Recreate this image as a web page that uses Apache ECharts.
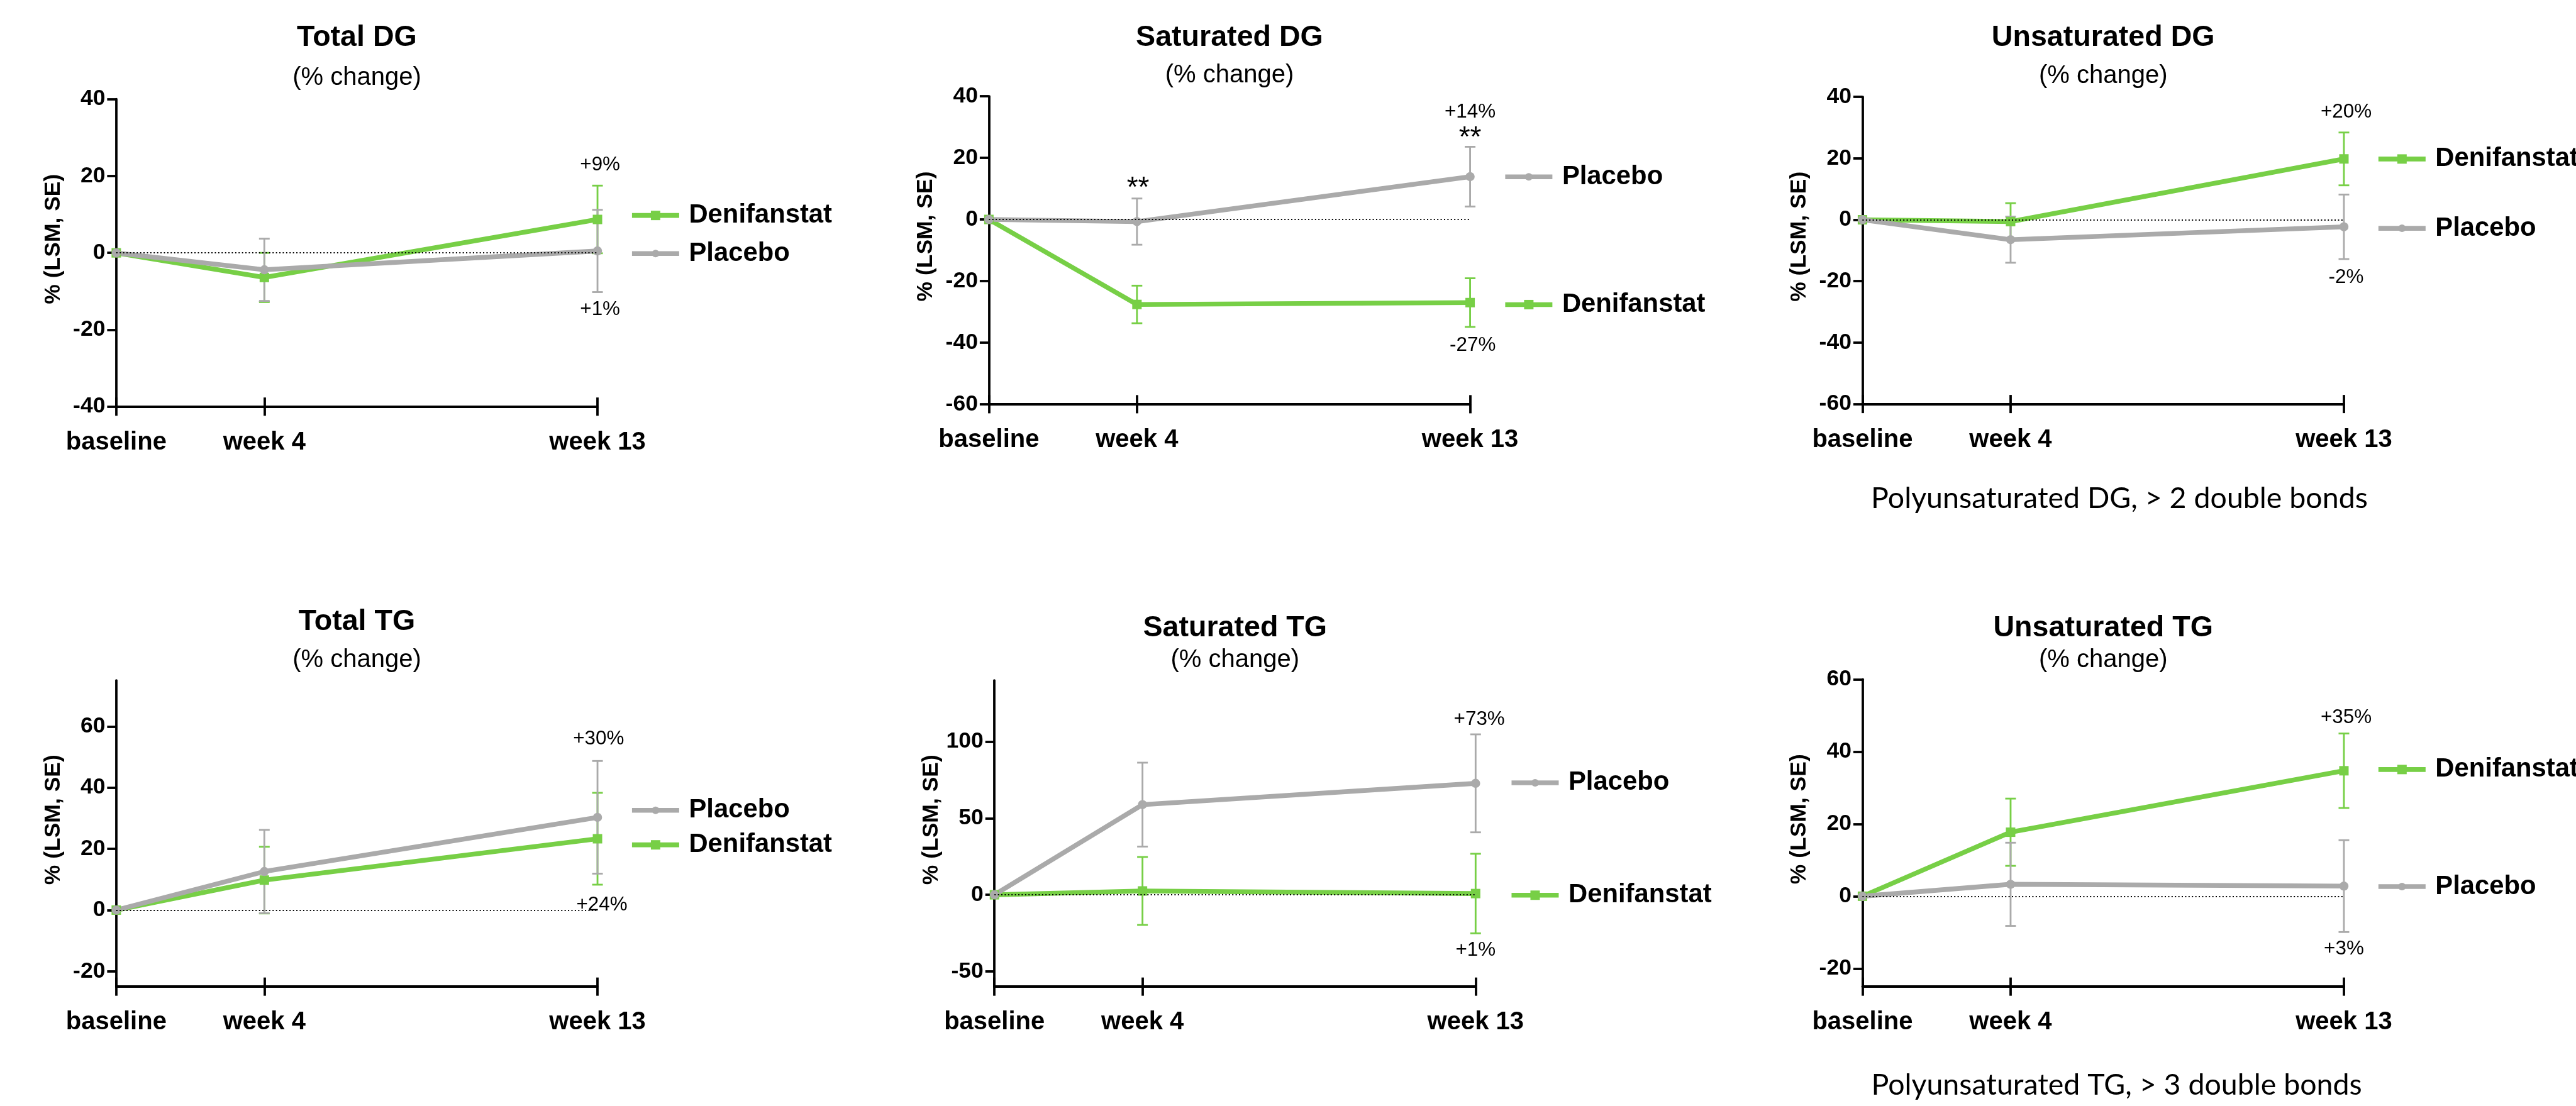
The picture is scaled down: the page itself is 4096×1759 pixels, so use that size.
<!DOCTYPE html>
<html><head><meta charset="utf-8">
<script src="https://cdn.jsdelivr.net/npm/echarts@6/dist/echarts.min.js"></script>
<style>html,body{margin:0;padding:0;background:#fff}#c{width:4096px;height:1759px}</style>
</head><body><div id="c"></div>
<script>
// ---------------- DATA ----------------
const weeks = [0, 4, 13];
const weekLabels = ['baseline', 'week 4', 'week 13'];
const seriesNames = ['Denifanstat', 'Placebo'];
const panelTitles = ['Total DG', 'Saturated DG', 'Unsaturated DG', 'Total TG', 'Saturated TG', 'Unsaturated TG'];
const panelSubtitle = '(% change)';
const yAxisName = '% (LSM, SE)';
const footnoteDG = 'Polyunsaturated DG, > 2 double bonds';
const footnoteTG = 'Polyunsaturated TG, > 3 double bonds';

// Total DG
const totalDG_denifanstat = [0, -6.4, 8.7];
const totalDG_denifanstat_se = [0, 6.4, 8.8];
const totalDG_placebo = [0, -4.4, 0.5];
const totalDG_placebo_se = [0, 8.1, 10.7];
const totalDG_yRange = [-40, 40];
const totalDG_yTicks = [-40, -20, 0, 20, 40];
const totalDG_labels = ['+9%', '+1%'];

// Saturated DG
const satDG_denifanstat = [0, -27.6, -27.0];
const satDG_denifanstat_se = [0, 6.1, 7.9];
const satDG_placebo = [0, -0.7, 13.9];
const satDG_placebo_se = [0, 7.5, 9.7];
const satDG_yRange = [-60, 40];
const satDG_yTicks = [-60, -40, -20, 0, 20, 40];
const satDG_labels = ['**', '+14%', '**', '-27%'];

// Unsaturated DG
const unsatDG_denifanstat = [0, -0.6, 19.8];
const unsatDG_denifanstat_se = [0, 6.0, 8.6];
const unsatDG_placebo = [0, -6.5, -2.3];
const unsatDG_placebo_se = [0, 7.5, 10.5];
const unsatDG_yRange = [-60, 40];
const unsatDG_yTicks = [-60, -40, -20, 0, 20, 40];
const unsatDG_labels = ['+20%', '-2%'];

// Total TG
const totalTG_denifanstat = [0, 9.8, 23.3];
const totalTG_denifanstat_se = [0, 10.9, 15.0];
const totalTG_placebo = [0, 12.6, 30.3];
const totalTG_placebo_se = [0, 13.6, 18.4];
const totalTG_yRange = [-25, 75];
const totalTG_yTicks = [-20, 0, 20, 40, 60];
const totalTG_labels = ['+30%', '+24%'];

// Saturated TG
const satTG_denifanstat = [0, 2.5, 0.8];
const satTG_denifanstat_se = [0, 22.2, 26.0];
const satTG_placebo = [0, 58.9, 72.8];
const satTG_placebo_se = [0, 27.4, 32.0];
const satTG_yRange = [-60, 140];
const satTG_yTicks = [-50, 0, 50, 100];
const satTG_labels = ['+73%', '+1%'];

// Unsaturated TG
const unsatTG_denifanstat = [0, 17.7, 34.7];
const unsatTG_denifanstat_se = [0, 9.3, 10.3];
const unsatTG_placebo = [0, 3.3, 2.8];
const unsatTG_placebo_se = [0, 11.5, 12.7];
const unsatTG_yRange = [-25, 60];
const unsatTG_yTicks = [-20, 0, 20, 40, 60];
const unsatTG_labels = ['+35%', '+3%'];

// ---------------- LAYOUT / STYLE (reference px, scaled by S) ----------------
const S = 0.951;
const GREEN = '#77CF46';
const GRAY = '#AAAAAA';
const FONT = '"Liberation Sans", Arial, Helvetica, sans-serif';
const NOTEFONT = 'Lato, "Open Sans", sans-serif';

const layout = [
  {left:194.4, top:165.8, width:804.6, height:514.2, titleY:62.8, subY:130.4,
   legend:[['Denifanstat',1052.7,360.2],['Placebo',1052.7,424]],
   ann:[[13.07,22.8],[13.07,-14.8]]},
  {left:1653.4, top:161, width:804.6, height:515, titleY:63.3, subY:126.4,
   legend:[['Placebo',2512.7,295.7],['Denifanstat',2512.7,509.3]],
   ann:[[4.03,10.0],[13.0,34.9],[13.0,26.3],[13.07,-40.9]]},
  {left:3114, top:162, width:805, height:513.7, titleY:63.2, subY:127.4,
   legend:[['Denifanstat',3972.7,265.8],['Placebo',3972.7,381.7]],
   ann:[[13.06,35.1],[13.06,-18.8]]},
  {left:194.4, top:1138, width:804.6, height:512, titleY:1040.2, subY:1103.9,
   legend:[['Placebo',1052.7,1355],['Denifanstat',1052.7,1412.8]],
   ann:[[13.03,55.9],[13.12,1.7]]},
  {left:1662.7, top:1138, width:804.5, height:512, titleY:1050.2, subY:1104,
   legend:[['Placebo',2523.3,1309],['Denifanstat',2523.3,1497]],
   ann:[[13.1,114.5],[13.0,-36.2]]},
  {left:3114, top:1136, width:805, height:514, titleY:1050.2, subY:1103.9,
   legend:[['Denifanstat',3972.7,1286.8],['Placebo',3972.7,1482.6]],
   ann:[[13.06,49.4],[13.0,-14.6]]}
];
const footnotes = [[footnoteDG, 3543.6, 833.6], [footnoteTG, 3539, 1814.8]];

const panels = [
  {d:totalDG_denifanstat, ds:totalDG_denifanstat_se, p:totalDG_placebo, ps:totalDG_placebo_se, yr:totalDG_yRange, yt:totalDG_yTicks, lab:totalDG_labels},
  {d:satDG_denifanstat, ds:satDG_denifanstat_se, p:satDG_placebo, ps:satDG_placebo_se, yr:satDG_yRange, yt:satDG_yTicks, lab:satDG_labels},
  {d:unsatDG_denifanstat, ds:unsatDG_denifanstat_se, p:unsatDG_placebo, ps:unsatDG_placebo_se, yr:unsatDG_yRange, yt:unsatDG_yTicks, lab:unsatDG_labels},
  {d:totalTG_denifanstat, ds:totalTG_denifanstat_se, p:totalTG_placebo, ps:totalTG_placebo_se, yr:totalTG_yRange, yt:totalTG_yTicks, lab:totalTG_labels},
  {d:satTG_denifanstat, ds:satTG_denifanstat_se, p:satTG_placebo, ps:satTG_placebo_se, yr:satTG_yRange, yt:satTG_yTicks, lab:satTG_labels},
  {d:unsatTG_denifanstat, ds:unsatTG_denifanstat_se, p:unsatTG_placebo, ps:unsatTG_placebo_se, yr:unsatTG_yRange, yt:unsatTG_yTicks, lab:unsatTG_labels}
];

const AXW = 3.8, TICK = 14.5, LW = 7.6, EW = 2.85, CAP = 17;

function errRender(color) {
  return function (params, api) {
    const x = api.value(0), lo = api.value(1), hi = api.value(2);
    const a = api.coord([x, lo]), b = api.coord([x, hi]);
    const hw = CAP / 2;
    const st = {stroke: color, lineWidth: EW};
    return {type: 'group', children: [
      {type: 'line', shape: {x1: a[0], y1: a[1], x2: b[0], y2: b[1]}, style: st},
      {type: 'line', shape: {x1: a[0] - hw, y1: a[1], x2: a[0] + hw, y2: a[1]}, style: st},
      {type: 'line', shape: {x1: b[0] - hw, y1: b[1], x2: b[0] + hw, y2: b[1]}, style: st}
    ]};
  };
}
function noteRender(texts) {
  return function (params, api) {
    const p = api.coord([api.value(0), api.value(1)]);
    const t = texts[params.dataIndex];
    return {type: 'text', x: p[0], y: p[1], silent: true,
      style: {text: t, fill: '#000', fontSize: t === '**' ? 46 : 31.4, fontFamily: FONT, fontWeight: 'normal',
        align: 'center', verticalAlign: 'middle', textAlign: 'center', textVerticalAlign: 'middle'}};
  };
}

const grid = [], xAxis = [], yAxis = [], series = [], legend = [], graphic = [];

panels.forEach((pn, k) => {
  const L = layout[k];
  grid.push({left: L.left * S, top: L.top * S, width: L.width * S, height: L.height * S, outerBoundsMode: 'none', containLabel: false});
  xAxis.push({type: 'value', gridIndex: k, min: 0, max: 13, position: 'bottom',
    axisLine: {show: true, onZero: false, lineStyle: {color: '#000', width: AXW}},
    axisTick: {show: true, length: TICK, customValues: weeks, lineStyle: {color: '#000', width: AXW}},
    axisLabel: {show: true, customValues: weeks, margin: 37, fontSize: 40, fontWeight: 'bold', color: '#000', fontFamily: FONT,
      formatter: v => weekLabels[weeks.indexOf(v)] || ''},
    splitLine: {show: false}});
  xAxis.push({type: 'value', gridIndex: k, min: 0, max: 13, position: 'bottom',
    axisLine: {show: false, onZero: false},
    axisTick: {show: true, inside: true, length: TICK, customValues: weeks, lineStyle: {color: '#000', width: AXW}},
    axisLabel: {show: false}, splitLine: {show: false}});
  yAxis.push({type: 'value', gridIndex: k, min: pn.yr[0], max: pn.yr[1],
    axisLine: {show: true, onZero: false, lineStyle: {color: '#000', width: AXW}},
    axisTick: {show: true, length: TICK, customValues: pn.yt, lineStyle: {color: '#000', width: AXW}},
    axisLabel: {show: true, customValues: pn.yt, margin: 17.5, fontSize: 35.5, fontWeight: 'bold', color: '#000', fontFamily: FONT},
    splitLine: {show: false},
    name: yAxisName, nameLocation: 'middle', nameGap: 82, nameRotate: 90,
    nameTextStyle: {fontSize: 35.5, fontWeight: 'bold', color: '#000', fontFamily: FONT, padding: [0, 0, 0, 44]}});

  const xi = 2 * k;
  const mk = (vals) => weeks.map((w, i) => [w, vals[i]]);
  const mkErr = (vals, se) => weeks.map((w, i) => [w, vals[i] - se[i], vals[i] + se[i]]).filter((r, i) => se[i] > 0);

  series.push({type: 'line', name: 'Denifanstat', xAxisIndex: xi, yAxisIndex: k, data: mk(pn.d),
    symbol: 'rect', symbolSize: 15, showAllSymbol: true,
    lineStyle: {color: GREEN, width: LW}, itemStyle: {color: GREEN}, silent: true,
    markLine: {silent: true, symbol: 'none', label: {show: false},
      lineStyle: {color: '#000', width: 2, type: [2, 3.4]}, data: [{yAxis: 0}]}});
  series.push({type: 'custom', name: 'Denifanstat SE', xAxisIndex: xi, yAxisIndex: k, data: mkErr(pn.d, pn.ds),
    encode: {x: 0, y: [1, 2]}, renderItem: errRender(GREEN), silent: true});
  series.push({type: 'line', name: 'Placebo', xAxisIndex: xi, yAxisIndex: k, data: mk(pn.p),
    symbol: 'circle', symbolSize: 14.5, showAllSymbol: true,
    lineStyle: {color: GRAY, width: LW}, itemStyle: {color: GRAY}, silent: true});
  series.push({type: 'custom', name: 'Placebo SE', xAxisIndex: xi, yAxisIndex: k, data: mkErr(pn.p, pn.ps),
    encode: {x: 0, y: [1, 2]}, renderItem: errRender(GRAY), silent: true});
  series.push({type: 'custom', name: 'notes' + k, xAxisIndex: xi, yAxisIndex: k, silent: true, clip: false, z: 10,
    data: L.ann, encode: {x: 0, y: 1}, renderItem: noteRender(pn.lab)});

  L.legend.forEach(([nm, lx, ly]) => {
    const ih = nm === 'Denifanstat' ? 18.7 : 15;
    legend.push({data: [nm], left: lx * S, top: ly * S - 20.9, orient: 'vertical', padding: 0,
      itemWidth: 75, itemHeight: ih, selectedMode: false,
      lineStyle: {width: LW},
      textStyle: {fontSize: 41.8, fontWeight: 'bold', color: '#000', fontFamily: FONT, padding: [0, 0, 0, 10.5]}});
  });

  const cx = (L.left + L.width / 2) * S;
  graphic.push({type: 'text', x: cx, y: L.titleY * S, silent: true,
    style: {text: panelTitles[k], fill: '#000', fontSize: 46.6, fontWeight: 'bold', fontFamily: FONT,
      align: 'center', verticalAlign: 'middle', textAlign: 'center', textVerticalAlign: 'middle'}});
  graphic.push({type: 'text', x: cx, y: L.subY * S, silent: true,
    style: {text: panelSubtitle, fill: '#000', fontSize: 40, fontWeight: 'normal', fontFamily: FONT,
      align: 'center', verticalAlign: 'middle', textAlign: 'center', textVerticalAlign: 'middle'}});
});

footnotes.forEach(([t, x, y]) => {
  graphic.push({type: 'text', x: x * S, y: y * S, silent: true,
    style: {text: t, fill: '#000', fontSize: 46.5, fontFamily: NOTEFONT,
      align: 'center', verticalAlign: 'middle', textAlign: 'center', textVerticalAlign: 'middle'}});
});

const chart = echarts.init(document.getElementById('c'), null, {renderer: 'canvas'});
chart.setOption({
  animation: false,
  backgroundColor: '#fff',
  grid, xAxis, yAxis, series, legend, graphic
});
</script>
</body></html>
